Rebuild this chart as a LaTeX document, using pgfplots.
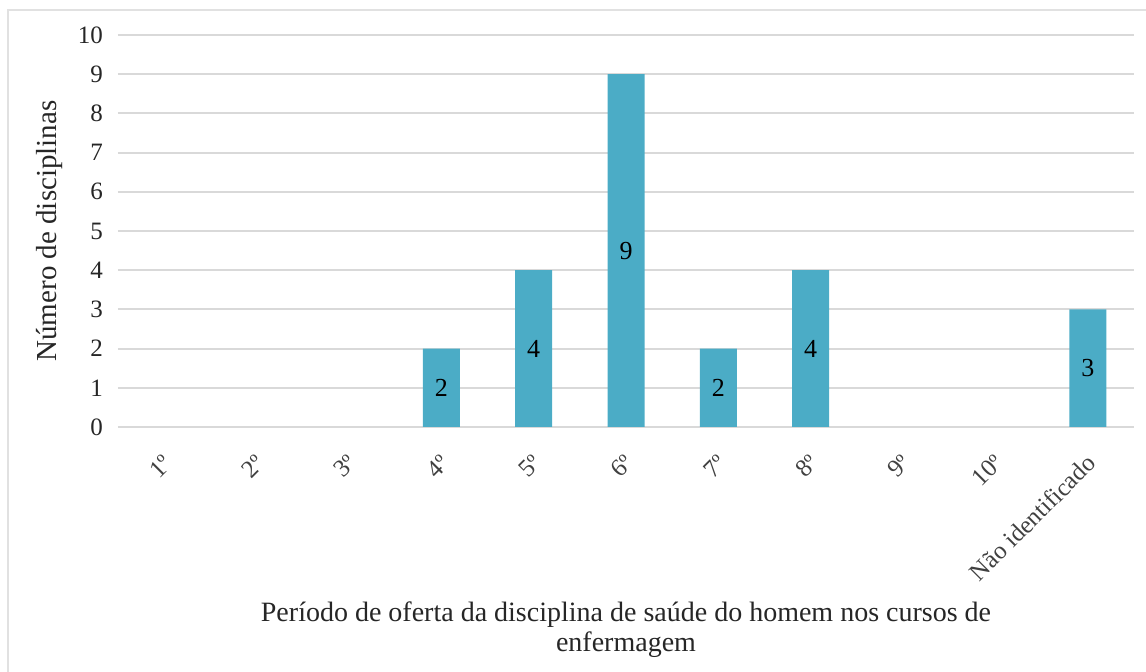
\documentclass[border=0pt]{standalone}
\usepackage{fontspec}
\setmainfont{Liberation Serif}
\usepackage{pgfplots}
\pgfplotsset{compat=1.18}
\definecolor{barblue}{HTML}{4BACC6}
\definecolor{gridgray}{HTML}{D9D9D9}
\begin{document}
\fontsize{13}{15}\selectfont
\begin{tikzpicture}
\useasboundingbox (-59pt,-122.5pt) rectangle (514pt,213.5pt);
\draw[gridgray!80, line width=1pt] (-55pt,-122.5pt) -- (-55pt,208.5pt) -- (514pt,208.5pt);
\begin{axis}[
  at={(0pt,0pt)}, anchor=south west,
  scale only axis, width=508pt, height=196pt,
  xmin=-0.5, xmax=10.5, ymin=0, ymax=10,
  ytick={0,1,...,10}, xtick={0,1,...,10},
  xticklabels={1º,2º,3º,4º,5º,6º,7º,8º,9º,10º,Não identificado},
  /pgf/number format/assume math mode=true,
  x tick label style={rotate=45, anchor=east, yshift=-12.5pt, xshift=-5.6pt, text=black!75,
    font=\fontsize{12.4}{14}\selectfont},
  yticklabel style={xshift=-3pt, text=black!85, font=\fontsize{12.5}{14}\selectfont},
  axis line style={draw=none}, major tick length=0pt,
  ymajorgrids, grid style={gridgray, line width=1pt},
  xlabel={Período de oferta da disciplina de saúde do homem nos cursos de\\enfermagem},
  xlabel style={at={(axis description cs:0.5,0)}, anchor=north, yshift=-83pt, align=center,
    text=black!85, font=\fontsize{14}{15}\selectfont},
  ylabel={Número de disciplinas},
  ylabel style={at={(axis description cs:0,0.5)}, anchor=center, yshift=34pt,
    text=black!85, font=\fontsize{14.5}{16}\selectfont},
]
\addplot[ybar, bar width=18.5pt, fill=barblue, draw=none]
  coordinates {(3,2) (4,4) (5,9) (6,2) (7,4) (10,3)};
\addplot[draw=none, mark=none, nodes near coords, point meta=explicit symbolic,
  nodes near coords style={anchor=center, text=black, font=\fontsize{13}{15}\selectfont}]
  coordinates {(3,1) [2] (4,2) [4] (5,4.5) [9] (6,1) [2] (7,2) [4] (10,1.5) [3]};
\end{axis}
\end{tikzpicture}
\end{document}
